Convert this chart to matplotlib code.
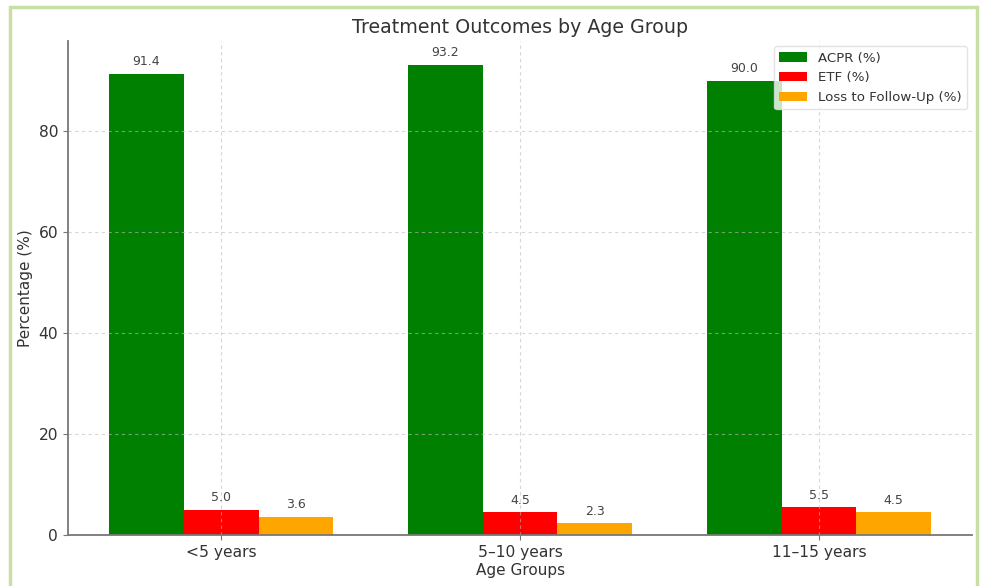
import matplotlib
matplotlib.use("Agg")
import matplotlib.pyplot as plt
from matplotlib.patches import Rectangle
import numpy as np

age_groups = ["<5 years", "5–10 years", "11–15 years"]
acpr = [91.4, 93.2, 90.0]
etf = [5.0, 4.5, 5.5]
loss = [3.6, 2.3, 4.5]
series_names = ["ACPR (%)", "ETF (%)", "Loss to Follow-Up (%)"]
series_colors = ["green", "red", "orange"]

fig = plt.figure(figsize=(9.85, 5.86), dpi=100)
ax = fig.add_axes([0.069, 0.087, 0.918, 0.843])

x = np.arange(len(age_groups))
width = 0.25
text_color = "#444444"
for i, (vals, name, col) in enumerate(zip([acpr, etf, loss], series_names, series_colors)):
    bars = ax.bar(x + (i - 1) * width, vals, width, label=name, color=col)
    for b, v in zip(bars, vals):
        ax.annotate(f"{v:.1f}", (b.get_x() + b.get_width() / 2, v),
                    xytext=(0, 4), textcoords="offset points",
                    ha="center", va="bottom", fontsize=9, color=text_color)

ax.set_xticks(x)
ax.set_xticklabels(age_groups, fontsize=11.2, color="#333333")
ax.tick_params(axis="y", labelsize=11.2, labelcolor="#333333", color="#777777")
ax.tick_params(axis="x", color="#777777")
ax.set_yticks([0, 20, 40, 60, 80])
ax.set_xlabel("Age Groups", fontsize=11, color="#333333", labelpad=2)
ax.set_ylabel("Percentage (%)", fontsize=11, color="#333333")
ax.set_title("Treatment Outcomes by Age Group", fontsize=13.7, color="#333333", pad=6)
ax.grid(True, linestyle=(0, (3, 3)), linewidth=0.8, alpha=0.6, color="#bbbbbb")
for s in ["top", "right"]:
    ax.spines[s].set_visible(False)
for s in ["left", "bottom"]:
    ax.spines[s].set_color("#777777")
    ax.spines[s].set_linewidth(1.3)

leg = ax.legend(loc="upper right", fontsize=9.6, frameon=True, borderaxespad=0.4,
                handlelength=2.1)
leg.get_frame().set_edgecolor("#dddddd")
for t in leg.get_texts():
    t.set_color("#333333")

# light green frame around the figure
fig.patches.append(Rectangle((10 / 985, -0.02), 967 / 985, 1 - 7 / 586 + 0.02,
                             transform=fig.transFigure, fill=False,
                             edgecolor="#c9dfa8", linewidth=2.5))

fig.savefig("out.png", dpi=100, facecolor="white")
